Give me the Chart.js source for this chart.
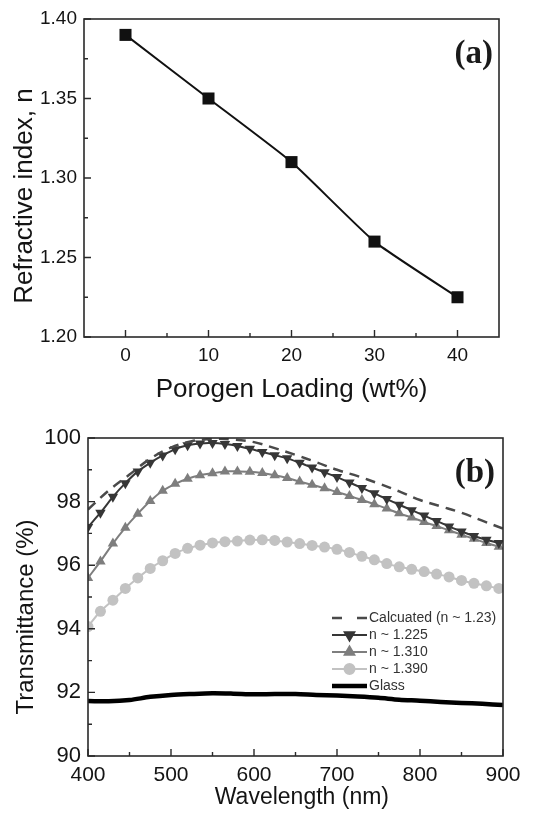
<!DOCTYPE html>
<html>
<head>
<meta charset="utf-8">
<script src="https://cdn.jsdelivr.net/npm/chart.js@4.4.1/dist/chart.umd.min.js"></script>
<style>
  html, body { margin: 0; padding: 0; background: #fff; }
  #page { position: relative; width: 534px; height: 815px; overflow: hidden; }
  .box { position: absolute; left: 0; width: 534px; }
  #boxA { top: 0; height: 420px; }
  #boxB { top: 400px; height: 415px; }
</style>
</head>
<body>
<div id="page">
  <div class="box" id="boxA"><canvas id="chartA"></canvas></div>
  <div class="box" id="boxB"><canvas id="chartB"></canvas></div>
</div>
<script>
'use strict';
// (a) refractive index vs porogen loading
const loading = [0, 10, 20, 30, 40];
const refIndex = [1.39, 1.35, 1.31, 1.26, 1.225];
const xTicksA = [0, 10, 20, 30, 40];
const xMinorA = [5, 15, 25, 35];
const yTicksA = [1.20, 1.25, 1.30, 1.35, 1.40];
const yMinorA = [1.225, 1.275, 1.325, 1.375];

// (b) transmittance spectra
const wlMarked = [400, 415, 430, 445, 460, 475, 490, 505, 520, 535, 550, 565, 580, 595, 610, 625, 640,
  655, 670, 685, 700, 715, 730, 745, 760, 775, 790, 805, 820, 835, 850, 865, 880, 895];
const n1225 = [97.2, 97.65, 98.15, 98.58, 98.95, 99.22, 99.45, 99.65, 99.77, 99.83, 99.84, 99.81, 99.75, 99.66, 99.56, 99.46, 99.36,
  99.22, 99.07, 98.92, 98.77, 98.6, 98.43, 98.26, 98.08, 97.9, 97.73, 97.56, 97.39, 97.22, 97.06, 96.92, 96.8, 96.7];
const n1310 = [95.6, 96.12, 96.68, 97.18, 97.62, 98.02, 98.34, 98.56, 98.72, 98.83, 98.89, 98.95, 98.95, 98.94, 98.9, 98.83, 98.74,
  98.63, 98.53, 98.42, 98.3, 98.18, 98.05, 97.92, 97.78, 97.63, 97.5, 97.36, 97.23, 97.1, 96.96, 96.83, 96.7, 96.58];
const n1390 = [94.07, 94.55, 94.9, 95.27, 95.6, 95.9, 96.14, 96.37, 96.53, 96.63, 96.7, 96.74, 96.76, 96.79, 96.8, 96.78, 96.73,
  96.68, 96.62, 96.57, 96.5, 96.4, 96.28, 96.17, 96.05, 95.95, 95.87, 95.8, 95.72, 95.63, 95.52, 95.43, 95.35, 95.27];
const wlLine = [400, 425, 450, 475, 500, 525, 550, 575, 600, 625, 650, 675, 700, 725, 750, 775, 800, 825, 850, 875, 900];
const calculated = [97.75, 98.35, 98.85, 99.35, 99.7, 99.9, 99.97, 99.95, 99.87, 99.68, 99.47, 99.24, 99.0, 98.8, 98.57,
  98.32, 98.05, 97.85, 97.65, 97.4, 97.15];
const glass = [91.73, 91.72, 91.76, 91.86, 91.92, 91.95, 91.97, 91.96, 91.94, 91.95, 91.95, 91.92, 91.9, 91.87, 91.83,
  91.77, 91.74, 91.7, 91.67, 91.64, 91.6];
const xTicksB = [400, 500, 600, 700, 800, 900];
const xMinorB = [450, 550, 650, 750, 850];
const yTicksB = [90, 92, 94, 96, 98, 100];
const yMinorB = [91, 93, 95, 97, 99];

const sans = '"Liberation Sans", Arial, sans-serif';
Chart.defaults.color = '#141414';
Chart.defaults.font.family = sans;

function pts(xs, ys) {
  return xs.map((x, i) => ({x: x, y: ys[i]}));
}

// box frame with inward tick marks
const boxTicks = {
  id: 'boxTicks',
  afterDatasetsDraw(chart, args, opts) {
    const ctx = chart.ctx;
    const a = chart.chartArea;
    const sx = chart.scales.x;
    const sy = chart.scales.y;
    ctx.save();
    ctx.strokeStyle = '#2a2a2a';
    ctx.lineWidth = 1.6;
    ctx.strokeRect(a.left, a.top, a.right - a.left, a.bottom - a.top);
    ctx.lineWidth = 1.4;
    ctx.beginPath();
    opts.xMajor.forEach(v => { const p = sx.getPixelForValue(v); ctx.moveTo(p, a.bottom); ctx.lineTo(p, a.bottom - 7); });
    opts.xMinor.forEach(v => { const p = sx.getPixelForValue(v); ctx.moveTo(p, a.bottom); ctx.lineTo(p, a.bottom - 4); });
    opts.yMajor.forEach(v => { const p = sy.getPixelForValue(v); ctx.moveTo(a.left, p); ctx.lineTo(a.left + 7, p); });
    opts.yMinor.forEach(v => { const p = sy.getPixelForValue(v); ctx.moveTo(a.left, p); ctx.lineTo(a.left + 4, p); });
    ctx.stroke();
    ctx.font = 'bold 33px "Liberation Serif", "Times New Roman", serif';
    ctx.fillStyle = '#1a1a1a';
    ctx.textAlign = 'right';
    ctx.textBaseline = 'alphabetic';
    ctx.fillText(opts.tag, opts.tagX, opts.tagY);
    ctx.restore();
  }
};

// legend drawn inside the plot box
const insideLegend = {
  id: 'insideLegend',
  afterDraw(chart, args, opts) {
    if (!opts.show) return;
    const ctx = chart.ctx;
    ctx.save();
    ctx.font = '14px ' + sans;
    ctx.textBaseline = 'middle';
    ctx.textAlign = 'left';
    chart.data.datasets.forEach((ds, i) => {
      const yy = opts.top + i * opts.rowHeight;
      const x0 = opts.left;
      const x1 = opts.left + opts.lineLength;
      ctx.strokeStyle = ds.borderColor;
      ctx.lineWidth = ds.borderWidth;
      ctx.setLineDash(ds.borderDash ? opts.legendDash : []);
      ctx.beginPath();
      ctx.moveTo(x0, yy);
      ctx.lineTo(x1, yy);
      ctx.stroke();
      ctx.setLineDash([]);
      if (ds.pointRadius > 0) {
        ctx.fillStyle = ds.pointBackgroundColor;
        ctx.strokeStyle = ds.pointBackgroundColor;
        Chart.helpers.drawPoint(ctx, {
          pointStyle: ds.pointStyle, rotation: ds.pointRotation || 0,
          radius: ds.pointRadius - 0.5, borderWidth: 1
        }, (x0 + x1) / 2, yy);
      }
      ctx.fillStyle = '#333';
      ctx.fillText(ds.label, x1 + 2, yy);
    });
    ctx.restore();
  }
};

new Chart(document.getElementById('chartA'), {
  type: 'line',
  data: {
    datasets: [{
      label: 'Refractive index',
      data: pts(loading, refIndex),
      borderColor: '#111',
      backgroundColor: '#111',
      borderWidth: 2,
      tension: 0.15,
      pointStyle: 'rect',
      pointRadius: 8.5,
      pointBackgroundColor: '#111',
      pointBorderWidth: 0
    }]
  },
  options: {
    responsive: true,
    maintainAspectRatio: false,
    animation: false,
    layout: {padding: {left: 0, right: 35, top: 19, bottom: 0}},
    plugins: {
      legend: {display: false},
      tooltip: {enabled: false},
      insideLegend: {show: false},
      boxTicks: {xMajor: xTicksA, xMinor: xMinorA, yMajor: yTicksA, yMinor: yMinorA, tag: '(a)', tagX: 493, tagY: 63}
    },
    scales: {
      x: {
        type: 'linear', min: -5, max: 45,
        grid: {display: false, drawTicks: false},
        border: {display: false},
        afterBuildTicks: s => { s.ticks = xTicksA.map(v => ({value: v})); },
        afterFit: s => { s.height = 83; },
        ticks: {font: {size: 19}, padding: 7, maxRotation: 0},
        title: {display: true, text: 'Porogen Loading (wt%)', font: {size: 26, lineHeight: 1}, padding: {top: 0, bottom: 17}}
      },
      y: {
        min: 1.2, max: 1.4,
        grid: {display: false, drawTicks: false},
        border: {display: false},
        afterBuildTicks: s => { s.ticks = yTicksA.map(v => ({value: v})); },
        afterFit: s => { s.width = 84; },
        ticks: {font: {size: 19}, padding: 7, callback: v => v.toFixed(2)},
        title: {display: true, text: 'Refractive index, n     ', font: {size: 26, lineHeight: 1}, padding: {top: 12, bottom: 0}}
      }
    }
  },
  plugins: [boxTicks, insideLegend]
});

new Chart(document.getElementById('chartB'), {
  type: 'line',
  data: {
    datasets: [
      {
        label: 'Calcuated (n ~ 1.23)',
        data: pts(wlLine, calculated),
        borderColor: '#4a4a4a',
        borderWidth: 2.5,
        borderDash: [10, 7],
        tension: 0.35,
        pointRadius: 0
      },
      {
        label: 'n ~ 1.225',
        data: pts(wlMarked, n1225),
        borderColor: '#363636',
        borderWidth: 2,
        tension: 0.3,
        pointStyle: 'triangle',
        pointRotation: 180,
        pointRadius: 6,
        pointBackgroundColor: '#363636',
        pointBorderWidth: 0
      },
      {
        label: 'n ~ 1.310',
        data: pts(wlMarked, n1310),
        borderColor: '#7e7e7e',
        borderWidth: 2,
        tension: 0.3,
        pointStyle: 'triangle',
        pointRadius: 6,
        pointBackgroundColor: '#7e7e7e',
        pointBorderWidth: 0
      },
      {
        label: 'n ~ 1.390',
        data: pts(wlMarked, n1390),
        borderColor: '#c2c2c2',
        borderWidth: 2,
        tension: 0.3,
        pointStyle: 'circle',
        pointRadius: 5.5,
        pointBackgroundColor: '#c2c2c2',
        pointBorderWidth: 0
      },
      {
        label: 'Glass',
        data: pts(wlLine, glass),
        borderColor: '#000',
        borderWidth: 4.5,
        tension: 0.3,
        pointRadius: 0
      }
    ]
  },
  options: {
    responsive: true,
    maintainAspectRatio: false,
    animation: false,
    layout: {padding: {left: 0, right: 31, top: 38, bottom: 0}},
    plugins: {
      legend: {display: false},
      tooltip: {enabled: false},
      insideLegend: {show: true, left: 332, top: 218, rowHeight: 17, lineLength: 35, legendDash: [10, 15]},
      boxTicks: {xMajor: xTicksB, xMinor: xMinorB, yMajor: yTicksB, yMinor: yMinorB, tag: '(b)', tagX: 495, tagY: 82}
    },
    scales: {
      x: {
        type: 'linear', min: 400, max: 900,
        grid: {display: false, drawTicks: false},
        border: {display: false},
        afterBuildTicks: s => { s.ticks = xTicksB.map(v => ({value: v})); },
        afterFit: s => { s.height = 59; },
        ticks: {font: {size: 21}, padding: 7, maxRotation: 0},
        title: {display: true, text: '  Wavelength (nm)', font: {size: 23, lineHeight: 1}, padding: {top: 0, bottom: 6}}
      },
      y: {
        min: 90, max: 100,
        grid: {display: false, drawTicks: false},
        border: {display: false},
        afterBuildTicks: s => { s.ticks = yTicksB.map(v => ({value: v})); },
        afterFit: s => { s.width = 88; },
        ticks: {font: {size: 22}, padding: 7},
        title: {display: true, text: 'Transmittance (%)      ', font: {size: 24, lineHeight: 1}, padding: {top: 14, bottom: 0}}
      }
    }
  },
  plugins: [boxTicks, insideLegend]
});
</script>
</body>
</html>
